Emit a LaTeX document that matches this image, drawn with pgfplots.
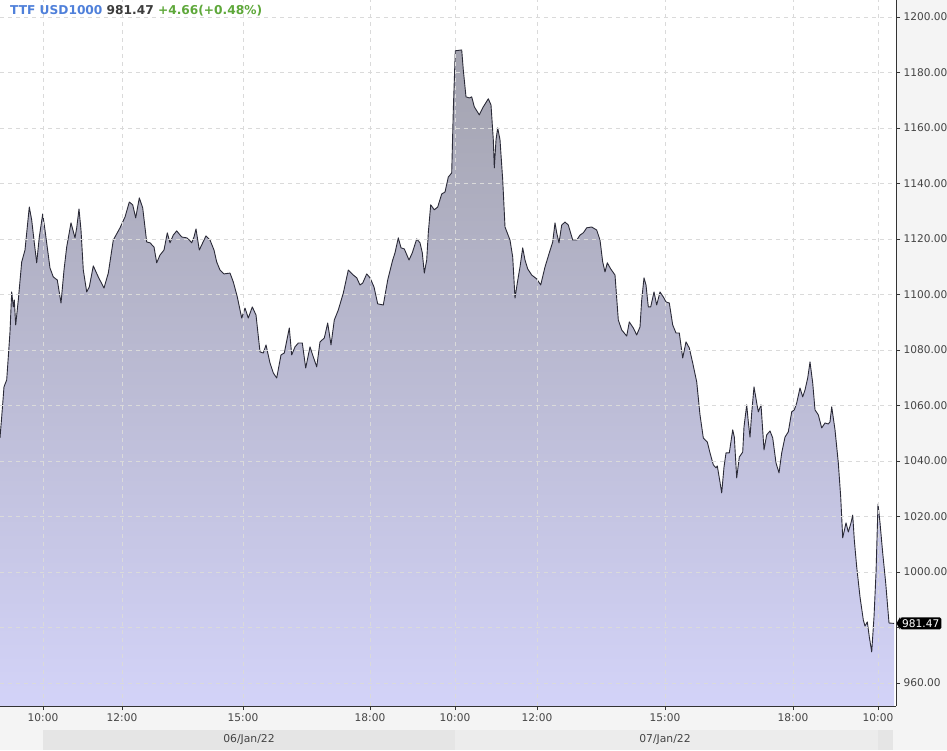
\documentclass[border=0pt]{standalone}
\usepackage{pgfplots}
\pgfplotsset{compat=1.18}
\usepackage{pgfplotstable}
\usepackage{fontspec}
\setmainfont{DejaVu Sans}
\definecolor{bgc}{HTML}{F4F4F4}
\definecolor{bandA}{HTML}{E5E5E5}
\definecolor{bandB}{HTML}{ECECEC}
\definecolor{gridc}{HTML}{DADADA}
\definecolor{axc}{HTML}{333333}
\definecolor{labc}{HTML}{444444}
\definecolor{linec}{HTML}{2B2B38}
\definecolor{filltop}{RGB}{163,163,175}
\definecolor{fillbot}{RGB}{211,211,248}
\definecolor{tblue}{HTML}{4F80DA}
\definecolor{tgray}{HTML}{3C3C3C}
\definecolor{tgreen}{HTML}{5EA83A}
\pgfplotstableread{
x y
0 1048.3
1.7 1055.9
4 1066.7
6.7 1069.2
8.3 1077.5
10 1086.5
11.7 1100.9
13.3 1095.5
14.3 1098.0
15.7 1089.0
18.3 1098.0
21.7 1111.7
25 1116.0
26.7 1122.2
29.3 1131.5
31.7 1126.8
34.3 1118.6
36.7 1111.4
39.3 1120.7
42.7 1129.0
45 1123.2
50 1109.5
53.3 1106.3
57.3 1105.2
61 1096.9
64 1108.8
66.7 1117.1
71 1125.8
75 1120.4
76.7 1124.0
79 1130.8
81 1123.2
83.3 1108.8
86.7 1100.9
89.3 1102.7
93.3 1110.3
98.3 1106.3
104 1102.3
108.3 1107.7
113.3 1119.6
120 1124.0
125 1127.9
129.3 1133.3
132.7 1132.3
135.7 1127.6
139.3 1134.8
142.7 1131.2
146.7 1118.9
150 1118.6
154 1117.1
156.7 1111.4
160 1114.2
164 1116.0
167.3 1122.2
170 1118.6
173.3 1121.4
176.7 1122.9
181.7 1120.7
186.7 1120.4
189.3 1119.6
191.7 1118.6
194 1120.7
196 1123.6
199.3 1116.0
202.7 1118.6
206 1121.1
210 1119.6
214 1116.0
216.7 1111.7
220 1108.8
224 1107.4
230 1107.7
233.3 1104.5
237.3 1099.1
241.7 1091.5
245 1095.1
248.3 1091.5
252.3 1095.5
256 1092.6
260 1079.3
263.3 1078.9
266 1081.8
270 1075.3
273.3 1071.7
276.7 1069.9
281 1078.2
284.3 1078.9
289.3 1087.9
291.7 1078.2
295 1081.1
298.3 1082.5
302.3 1082.5
305.7 1073.5
310 1081.1
313.3 1077.5
316.7 1073.9
320 1082.9
324.3 1084.3
327.7 1089.7
331 1081.8
334.3 1090.8
338.3 1094.4
343.3 1100.5
348.3 1108.8
353.3 1107.0
356.7 1106.0
360 1103.4
362.7 1104.1
366.7 1107.4
370 1106.0
374 1102.7
377.7 1096.6
383.3 1096.2
387.7 1105.2
392.7 1112.4
395 1115.0
398.3 1120.4
401 1116.8
404.3 1116.4
409 1112.4
412.3 1115.0
416.7 1120.0
420 1118.6
422.3 1115.0
424.3 1107.7
426.7 1112.4
428.3 1122.2
430.7 1132.3
434.3 1130.5
437.7 1131.5
441.7 1136.2
445 1136.9
448.3 1142.3
451.7 1143.8
453.3 1166.5
455.3 1187.8
461.7 1188.1
463.3 1180.9
466 1171.2
469.3 1170.8
471.7 1171.2
474.3 1167.6
479.3 1164.7
483.3 1167.6
488.3 1170.5
491 1168.3
493.3 1155.7
494.3 1145.6
496 1155.7
497.7 1160.0
500 1155.7
502.7 1141.3
505 1124.3
510 1119.6
512.7 1113.5
515 1098.7
517.3 1104.1
520 1109.9
522.7 1116.8
525 1112.4
527.7 1109.2
531.7 1107.0
536.7 1105.6
540.7 1103.4
545 1109.9
549.3 1115.0
552.7 1118.9
555 1125.8
556.7 1122.2
559 1118.6
561.7 1125.0
565 1126.1
568.3 1125.0
572.7 1119.6
576.7 1119.6
580 1121.4
583.3 1122.2
586.7 1124.0
591.7 1124.3
596.7 1123.2
600 1119.6
602.7 1111.7
605 1108.1
607.3 1111.4
610.7 1109.2
615 1107.0
618.3 1090.8
621.7 1087.2
626.7 1085.0
629.3 1090.1
633.3 1087.9
636.7 1085.4
640 1088.3
641.7 1098.0
644 1106.0
646 1103.4
648.3 1095.5
650.7 1095.5
654 1100.9
656.7 1096.2
660 1100.9
663.3 1099.1
666 1097.3
669.3 1096.9
672.7 1089.0
676 1086.1
679.3 1086.1
682.7 1077.1
686 1082.9
689.3 1080.7
692.7 1075.3
696.7 1068.5
700 1056.6
703.3 1048.3
707.3 1046.8
710 1042.9
713.3 1038.6
716 1037.5
717.3 1038.2
719.3 1033.9
721.7 1028.5
724 1037.8
726 1042.9
729.3 1042.9
732.7 1051.2
734.3 1048.6
736.7 1033.9
739.3 1041.4
742.7 1043.2
744 1052.3
746.7 1060.2
748.3 1054.1
750 1048.6
751.7 1057.3
754 1066.7
756.7 1060.9
758.3 1057.7
761 1060.2
764 1044.0
766.7 1049.4
770 1050.8
772.7 1048.3
776 1039.3
779 1035.7
781.7 1042.9
785 1048.6
788.3 1050.5
791.7 1057.7
794.3 1058.4
796.7 1060.9
800 1066.3
802.7 1063.1
805 1065.6
807.7 1069.9
810 1075.7
812.7 1068.1
815 1058.4
818.3 1056.6
821.7 1051.9
825 1053.7
828.3 1053.3
830 1054.1
831.7 1059.5
835 1051.2
838.3 1039.3
840.7 1027.0
842.7 1012.3
846 1017.7
848.3 1014.4
851 1017.7
852.7 1020.5
854.3 1011.5
856.7 1001.8
860 991.0
863.3 982.7
865 980.5
867.3 982.0
869.3 976.6
871.7 971.2
874 983.8
876 999.6
878 1024.5
880 1017.7
882.7 1006.8
885.7 996.0
889 981.6
894 981.47
}\pricedata
\begin{document}
\begin{tikzpicture}
\useasboundingbox (0pt,0pt) rectangle (947pt,750pt);
\fill[bgc] (0pt,0pt) rectangle (947pt,750pt);
\fill[bandA] (43pt,0pt) rectangle (455pt,20pt);
\fill[bandB] (455pt,0pt) rectangle (878pt,20pt);
\fill[bandA] (878pt,0pt) rectangle (893pt,20pt);
\node[font=\fontsize{10.8}{12}\selectfont, text=labc] at (249pt,10pt) {06/Jan/22};
\node[font=\fontsize{10.8}{12}\selectfont, text=labc] at (665pt,10pt) {07/Jan/22};
\begin{axis}[
  at={(0pt,44pt)}, anchor=south west,
  scale only axis, width=896pt, height=706pt,
  xmin=0, xmax=896, ymin=951.7, ymax=1206.1,
  axis x line*=bottom, axis y line*=right,
  axis line style={draw=axc, line width=0.8pt},
  axis background/.style={fill=white},
  tick align=outside, major tick length=4pt,
  tick style={draw=axc, line width=0.7pt},
  xtick={43,122,243,370,455,537,665,793,878},
  xticklabels={10:00,12:00,15:00,18:00,10:00,12:00,15:00,18:00,10:00},
  ytick={960,1000,1020,...,1200},
  extra y ticks={980},
  extra y tick labels={},
  extra y tick style={grid=major},
  yticklabel pos=right,
  /pgf/number format/assume math mode=true,
  yticklabel style={/pgf/number format/.cd, fixed, fixed zerofill, precision=2, 1000 sep={}},
  ticklabel style={font=\fontsize{10.6}{12}\selectfont, text=labc},
  grid=major,
  major grid style={dash pattern=on 4pt off 4pt, draw=gridc, line width=0.7pt},
  axis on top,
  clip=false,
]
\addplot[draw=none, top color=filltop, bottom color=fillbot] table[x=x,y=y] {\pricedata} \closedcycle;
\addplot[draw=linec, line width=0.9pt, line join=round] table[x=x,y=y] {\pricedata};
\node[anchor=west, fill=black, text=white, rounded corners=1.5pt, inner xsep=2pt, inner ysep=2pt,
  font=\fontsize{10.6}{12}\selectfont] (tag) at (axis cs:900,981.47) {981.47};
\fill[black] (tag.north west) -- ([xshift=-3.5pt]tag.west) -- (tag.south west) -- cycle;
\end{axis}
\node[anchor=west, inner sep=0pt, font=\bfseries\fontsize{12.2}{14}\selectfont] at (10pt,739pt)
  {\textcolor{tblue}{TTF USD1000} \textcolor{tgray}{981.47} \textcolor{tgreen}{+4.66(+0.48\%)}};
\end{tikzpicture}
\end{document}
